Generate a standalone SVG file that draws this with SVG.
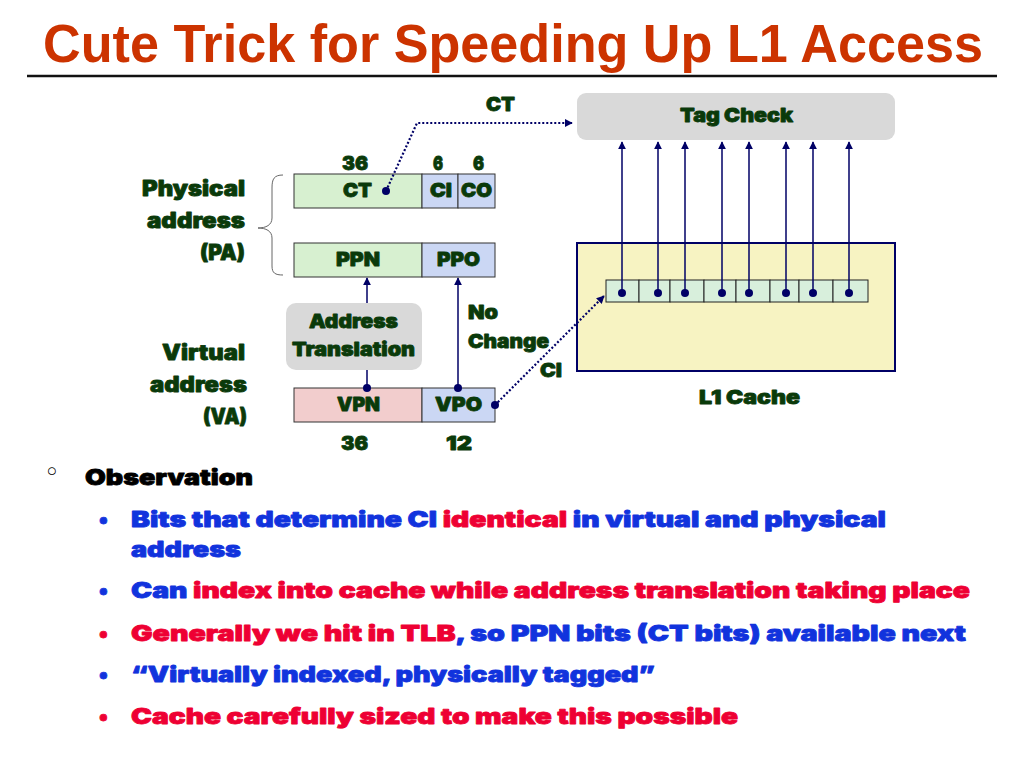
<svg xmlns="http://www.w3.org/2000/svg" width="1024" height="768" viewBox="0 0 1024 768">
<defs>
<marker id="arr" viewBox="0 0 10 10" refX="9" refY="5" markerWidth="8" markerHeight="8" markerUnits="userSpaceOnUse" orient="auto">
<path d="M0,0 L10,5 L0,10 z" fill="#000066"/>
</marker>
<style>
.t{font-family:Inter,"DejaVu Sans",sans-serif;font-weight:900;stroke-linejoin:round;}
.g{fill:#0a3a0a;stroke:#0a3a0a;stroke-width:0.8px;font-size:19px;}
.lab{font-size:21px;}
.fld{stroke:#333;stroke-width:1;}
.green{fill:#d7f0d0;}
.blue{fill:#cbd7f4;}
.pink{fill:#f2cdcd;}
.line{stroke:#000066;stroke-width:1.5;fill:none;}
.dot{stroke:#000066;stroke-width:2.2;stroke-dasharray:2,2;fill:none;}
.d{fill:#000066;}
.cell{fill:#d8efdc;stroke:#222;stroke-width:1;}
.b{fill:#1133dd;stroke:#1133dd;stroke-width:0.8px;}
.r{fill:#ee0033;stroke:#ee0033;stroke-width:0.8px;}
.k{fill:#000;stroke:#000;stroke-width:0.8px;}
.bl{font-size:22px;}
</style>
</defs>
<rect width="1024" height="768" fill="#fff"/>
<g id="title" transform="translate(43,62) scale(1,1.18)">
<text x="0" y="0" font-family="'Liberation Sans Narrow','Liberation Sans',Arial,sans-serif" font-weight="bold" font-size="46" fill="#cc3300" textLength="940" lengthAdjust="spacingAndGlyphs">Cute Trick for Speeding Up L1 Access</text>
</g>
<line x1="27" y1="76" x2="997" y2="76" stroke="#111" stroke-width="2.5"/>

<g id="pa-label" class="t g lab">
<text x="142" y="196" textLength="103" lengthAdjust="spacingAndGlyphs">Physical</text>
<text x="147" y="228" textLength="98" lengthAdjust="spacingAndGlyphs">address</text>
<text x="200" y="260" textLength="45" lengthAdjust="spacingAndGlyphs">(PA)</text>
</g>
<path id="brace" d="M283 175 C274 175 272 179 272 188 L272 218 C272 225 266 228 258 228 C266 228 272 231 272 238 L272 266 C272 273 275 275 283 275" fill="none" stroke="#666" stroke-width="1"/>
<g id="va-label" class="t g lab">
<text x="162" y="360" textLength="83" lengthAdjust="spacingAndGlyphs">Virtual</text>
<text x="150" y="392" textLength="97" lengthAdjust="spacingAndGlyphs">address</text>
<text x="203" y="424" textLength="44" lengthAdjust="spacingAndGlyphs">(VA)</text>
</g>

<g id="pa-fields">
<rect class="fld green" x="294" y="174" width="128" height="34"/>
<rect class="fld blue" x="422" y="174" width="36" height="34"/>
<rect class="fld blue" x="458" y="174" width="37" height="34"/>
<g class="t g">
<text x="343" y="197" textLength="29" lengthAdjust="spacingAndGlyphs">CT</text>
<text x="430" y="197" textLength="22" lengthAdjust="spacingAndGlyphs">CI</text>
<text x="461" y="197" textLength="31" lengthAdjust="spacingAndGlyphs">CO</text>
<text x="342" y="170" textLength="26" lengthAdjust="spacingAndGlyphs">36</text>
<text x="433" y="170" textLength="10" lengthAdjust="spacingAndGlyphs">6</text>
<text x="473" y="170" textLength="11" lengthAdjust="spacingAndGlyphs">6</text>
</g>
</g>
<g id="ppn-fields">
<rect class="fld green" x="294" y="243" width="128" height="34"/>
<rect class="fld blue" x="422" y="243" width="73" height="34"/>
<g class="t g">
<text x="336" y="266" textLength="44" lengthAdjust="spacingAndGlyphs">PPN</text>
<text x="437" y="266" textLength="43" lengthAdjust="spacingAndGlyphs">PPO</text>
</g>
</g>
<g id="addr-trans">
<rect x="286" y="303" width="136" height="67" rx="10" fill="#d9d9d9"/>
<g class="t g">
<text x="309" y="328" textLength="89" lengthAdjust="spacingAndGlyphs">Address</text>
<text x="292" y="356" textLength="123" lengthAdjust="spacingAndGlyphs">Translation</text>
</g>
</g>
<g id="va-fields">
<rect class="fld pink" x="294" y="388" width="128" height="34"/>
<rect class="fld blue" x="422" y="388" width="73" height="34"/>
<g class="t g">
<text x="337" y="411" textLength="43" lengthAdjust="spacingAndGlyphs">VPN</text>
<text x="435" y="411" textLength="47" lengthAdjust="spacingAndGlyphs">VPO</text>
<text x="341" y="450" textLength="27" lengthAdjust="spacingAndGlyphs">36</text>
<text x="446" y="450" textLength="26" lengthAdjust="spacingAndGlyphs">12</text>
</g>
</g>
<g id="tag-check">
<rect x="577" y="93" width="318" height="47" rx="9" fill="#d9d9d9"/>
<text class="t g" x="680" y="122" textLength="113" lengthAdjust="spacingAndGlyphs">Tag Check</text>
</g>
<g id="l1-cache">
<rect x="577" y="243" width="318" height="128" fill="#f7f3c2" stroke="#000066" stroke-width="2"/>
<rect class="cell" x="606" y="280" width="33" height="22"/>
<rect class="cell" x="639" y="280" width="31" height="22"/>
<rect class="cell" x="670" y="280" width="34" height="22"/>
<rect class="cell" x="704" y="280" width="32" height="22"/>
<rect class="cell" x="736" y="280" width="34" height="22"/>
<rect class="cell" x="770" y="280" width="29" height="22"/>
<rect class="cell" x="799" y="280" width="34" height="22"/>
<rect class="cell" x="833" y="280" width="35" height="22"/>
<text class="t g" x="699" y="404" textLength="101" lengthAdjust="spacingAndGlyphs">L1 Cache</text>
</g>
<g id="labels" class="t g">
<text x="486" y="111" textLength="29" lengthAdjust="spacingAndGlyphs">CT</text>
<text x="468" y="319" textLength="30" lengthAdjust="spacingAndGlyphs">No</text>
<text x="468" y="348" textLength="81" lengthAdjust="spacingAndGlyphs">Change</text>
<text x="540" y="377" textLength="22" lengthAdjust="spacingAndGlyphs">CI</text>
</g>

<g id="connectors">
<line class="line" x1="367" y1="303" x2="367" y2="278" marker-end="url(#arr)"/>
<line class="line" x1="367" y1="388" x2="367" y2="370"/>
<line class="line" x1="458" y1="388" x2="458" y2="278" marker-end="url(#arr)"/>
<circle class="d" cx="367" cy="388" r="4"/>
<circle class="d" cx="458" cy="388" r="4"/>
<circle class="d" cx="386" cy="191" r="4"/>
<polyline class="dot" points="386,191 417,123 572,123" marker-end="url(#arr)"/>
<circle class="d" cx="495" cy="405" r="4"/>
<line class="dot" x1="495" y1="405" x2="604" y2="296" marker-end="url(#arr)"/>
<g>
<line class="line" x1="622" y1="293" x2="622" y2="142" marker-end="url(#arr)"/>
<line class="line" x1="658" y1="293" x2="658" y2="142" marker-end="url(#arr)"/>
<line class="line" x1="685" y1="293" x2="685" y2="142" marker-end="url(#arr)"/>
<line class="line" x1="722" y1="293" x2="722" y2="142" marker-end="url(#arr)"/>
<line class="line" x1="749" y1="293" x2="749" y2="142" marker-end="url(#arr)"/>
<line class="line" x1="786" y1="293" x2="786" y2="142" marker-end="url(#arr)"/>
<line class="line" x1="813" y1="293" x2="813" y2="142" marker-end="url(#arr)"/>
<line class="line" x1="849" y1="293" x2="849" y2="142" marker-end="url(#arr)"/>
<circle class="d" cx="622" cy="293" r="4"/>
<circle class="d" cx="658" cy="293" r="4"/>
<circle class="d" cx="685" cy="293" r="4"/>
<circle class="d" cx="722" cy="293" r="4"/>
<circle class="d" cx="749" cy="293" r="4"/>
<circle class="d" cx="786" cy="293" r="4"/>
<circle class="d" cx="813" cy="293" r="4"/>
<circle class="d" cx="849" cy="293" r="4"/>
</g>
</g>

<g id="bullets">
<text x="44" y="481" font-family="'DejaVu Sans',sans-serif" font-size="26" fill="#000">◦</text>
<text class="t k" x="85" y="485" font-size="22" textLength="168" lengthAdjust="spacingAndGlyphs">Observation</text>
<g class="t bl">
<text x="99" y="527" class="b">•</text>
<text x="99" y="598" class="b">•</text>
<text x="99" y="641" class="r">•</text>
<text x="99" y="682" class="b">•</text>
<text x="99" y="724" class="r">•</text>
<text x="131" y="527" textLength="755" lengthAdjust="spacingAndGlyphs"><tspan class="b">Bits that determine CI </tspan><tspan class="r">identical</tspan><tspan class="b"> in virtual and physical</tspan></text>
<text x="131" y="557" class="b" textLength="110" lengthAdjust="spacingAndGlyphs">address</text>
<text x="131" y="598" textLength="839" lengthAdjust="spacingAndGlyphs"><tspan class="b">Can </tspan><tspan class="r">index into cache while address translation taking place</tspan></text>
<text x="131" y="641" textLength="835" lengthAdjust="spacingAndGlyphs"><tspan class="r">Generally we hit in TLB</tspan><tspan class="b">, so PPN bits (CT bits) available next</tspan></text>
<text x="131" y="682" class="b" textLength="524" lengthAdjust="spacingAndGlyphs">“Virtually indexed, physically tagged”</text>
<text x="131" y="724" class="r" textLength="607" lengthAdjust="spacingAndGlyphs">Cache carefully sized to make this possible</text>
</g>
</g>
</svg>
